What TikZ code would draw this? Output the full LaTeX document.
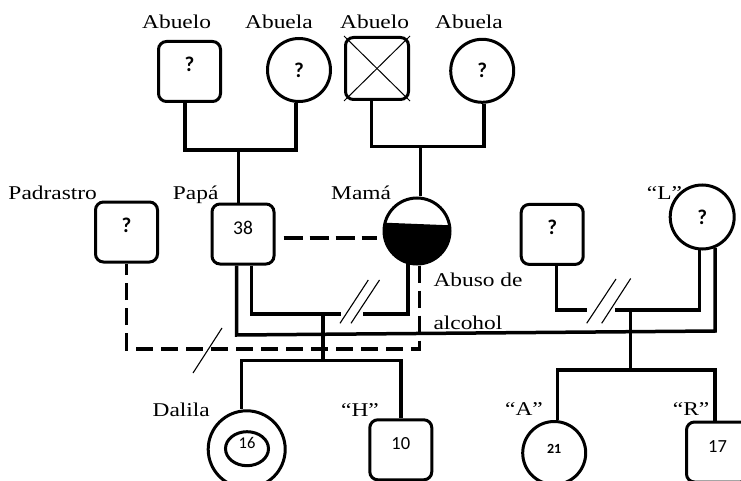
\documentclass[tikz,border=0pt]{standalone}
\usepackage{fontspec}
\setmainfont{Liberation Serif}[FakeStretch=1.2]
\newfontfamily\calib{Carlito}
\usetikzlibrary{shapes.geometric}
\begin{document}
\begin{tikzpicture}[x=1pt,y=-1pt,
  lab/.style={font=\fontsize{19.5}{22}\selectfont, inner sep=0pt, anchor=base west},
  sqbox/.style={draw, line width=3pt, rounded corners=8pt, minimum width=62pt, minimum height=60pt, inner sep=0pt, text height=0pt, text depth=0pt, font=\calib\fontsize{19.5}{20}\selectfont},
  circ/.style={draw, circle, line width=3pt, inner sep=0pt, font=\calib\fontsize{19}{20}\selectfont},
  raised/.style={text height=0pt, text depth=0pt},
  q/.style={font=\calib\bfseries\fontsize{21}{22}\selectfont},
  conn/.style={line width=3.5pt},
  dashconn/.style={line width=3.5pt, dash pattern=on 17pt off 8pt},
  slash/.style={line width=1.1pt}
]
\useasboundingbox (0,0) rectangle (741,481);
\clip (0,0) rectangle (741,481);

% ---------- grandparents ----------
\node[sqbox, q] (gf1) at (189.5,71.5) {?};
\node[circ, q, minimum size=63pt] (gm1) at (299,70) {?};
\node[sqbox, minimum width=63pt, minimum height=62pt] (gf2) at (377,68.5) {};
\draw[line width=1pt] (gf2.north west) -- (gf2.south east);
\draw[line width=1pt] (gf2.south west) -- (gf2.north east);
\node[circ, q, minimum size=63pt] (gm2) at (482.2,70.8) {?};

% ---------- parents generation ----------
\node[sqbox, q] (pad) at (126.5,232) {?};
\node[sqbox] (papa) at (243,234) {38};
\node[circ, minimum size=66pt] (mama) at (417,231) {};
\begin{scope}
  \clip (mama.center) circle[radius=33pt];
  \fill (380,222.5) -- (455,225.5) -- (455,275) -- (380,275) -- cycle;
\end{scope}
\node[sqbox, q] (qbox) at (552.2,234.4) {?};
\node[circ, q, minimum size=64pt] (L) at (702.2,217) {?};

% ---------- children ----------
\node[circ, minimum size=77pt] (dalila) at (246.7,449.3) {};
\node[draw, ellipse, line width=3pt, minimum width=43pt, minimum height=34pt, inner sep=0pt, raised,
      font=\calib\fontsize{16.5}{17}\selectfont] (dalilain) at (247,448.7) {16};
\node[sqbox, font=\calib\fontsize{18.5}{19}\selectfont] (H) at (400.8,449.8) {10};
\node[circ, raised, minimum size=63pt, font=\calib\bfseries\fontsize{14}{15}\selectfont] (A) at (554.2,453) {21};
\node[sqbox, font=\calib\fontsize{18.5}{19}\selectfont] (R) at (717.5,452) {17};

% ---------- labels ----------
\node[lab] (t1) at (142,28.3) {Abuelo};
\node[lab] (t2) at (245,28.3) {Abuela};
\node[lab] (t3) at (340,28.3) {Abuelo};
\node[lab] (t4) at (435,28.3) {Abuela};
\node[lab] (t5) at (8.3,200) {Padrastro};
\node[lab] (t6) at (172.7,200) {Papá};
\node[lab] (t7) at (331,200) {Mamá};
\node[lab] (t8) at (646.7,200) {“L”};
\node[lab] (t9) at (433.3,286.7) {Abuso de};
\node[lab] (t10) at (433.3,329.3) {alcohol};
\node[lab, anchor=base east] (t11) at (210,416) {Dalila};
\node[lab] (t12) at (341,416) {“H”};
\node[lab] (t13) at (505,415) {“A”};
\node[lab] (t14) at (672.7,415) {“R”};

% ---------- grandparents connectors ----------
\coordinate (u1) at (238.3,150);
\draw[conn] ([xshift=-4.5pt]gf1.south) |- (u1) -| ([xshift=-3pt]gm1.south);
\draw[conn] (u1) -- (u1 |- papa.north);
\coordinate (u2) at (420.7,146.7);
\draw[conn] ([xshift=-5.3pt]gf2.south) |- (u2) -| ([xshift=2pt]gm2.south);
\draw[conn] (u2) -- (u2 |- mama.north);

% ---------- Papa - Mama ----------
\draw[line width=3.5pt, dash pattern=on 19pt off 7pt] ([xshift=8pt,yshift=-4pt]papa.east) -- ([xshift=-6pt,yshift=-7pt]mama.west);
\coordinate (pm1) at (251.7,314);
\coordinate (pm2) at (340.5,314);
\coordinate (pm3) at (363,314);
\coordinate (pm4) at (408.2,314);
\draw[conn] ([xshift=8.7pt]papa.south) -- (pm1) -- (pm2);
\draw[conn] (pm3) -- (pm4) -- (pm4 |- mama.-105);
\draw[slash] (340,323.3) -- (368.3,280);
\draw[slash] (351,323.3) -- (379.5,280);

% children of Papa - Mama
\coordinate (c1) at (323,314);
\coordinate (c2) at (323,360.5);
\draw[conn] (c1) -- (c2);
\coordinate (cl) at (241.7,360.5);
\coordinate (cr) at (401,360.5);
\draw[conn] (cl |- dalila.north) -- (cl) -- (cr) -- (cr |- H.north);

% ---------- Papa - L ----------
\coordinate (pl1) at (236.5,335);
\coordinate (pl2) at (715,331);
\draw[conn] ([xshift=-6.5pt]papa.south) -- (pl1) -- (pl2) -- (pl2 |- L.-67);

% ---------- Mama - Padrastro (dashed) ----------
\coordinate (d1) at (419.3,349);
\coordinate (d2) at (126.7,349);
\draw[dashconn] ([xshift=2.3pt]mama.south) -- (d1) -- (d2) -- (d2 |- pad.south);
\draw[slash] (222,328) -- (193,373);

% ---------- ? box - L ----------
\coordinate (r1) at (556.7,310);
\coordinate (r2) at (587,310);
\coordinate (r3) at (615,310);
\coordinate (r4) at (699.3,310);
\draw[conn] ([xshift=4.5pt]qbox.south) -- (r1) -- (r2);
\draw[conn] (r3) -- (r4) -- (r4 |- L.-95);
\draw[slash] (586.7,323.3) -- (616,279);
\draw[slash] (601.7,323.3) -- (630.7,278.5);
\coordinate (rc1) at (630.5,310);
\coordinate (rc2) at (630.5,370);
\draw[conn] (rc1) -- (rc2);
\coordinate (al) at (557.3,370);
\coordinate (ar) at (715,370);
\draw[conn] (al |- A.north) -- (al) -- (ar) -- (ar |- R.north);
\end{tikzpicture}
\end{document}
